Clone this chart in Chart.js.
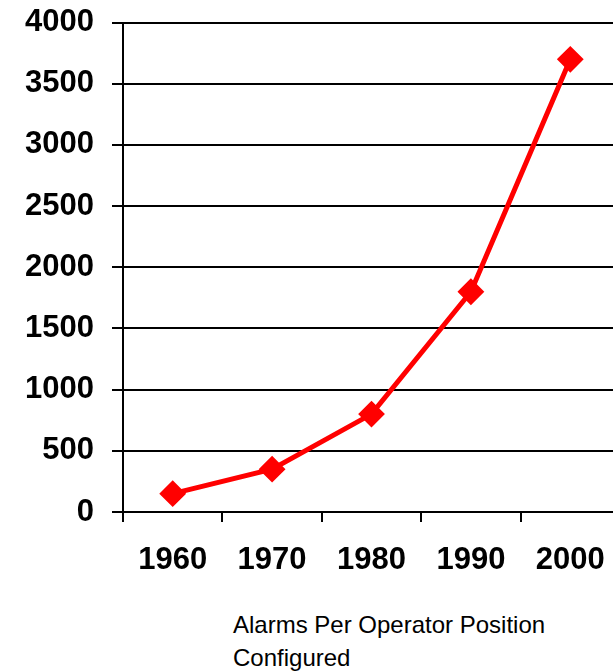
<!DOCTYPE html>
<html>
<head>
<meta charset="utf-8">
<script src="https://cdn.jsdelivr.net/npm/chart.js@4/dist/chart.umd.min.js"></script>
<style>
  html, body { margin: 0; padding: 0; background: #fff; }
  #wrap { position: relative; width: 613px; height: 672px; overflow: hidden; background: #fff; }
  #chart { position: absolute; left: 0; top: -14px; }
  #caption {
    position: absolute; left: 233px; top: 608px;
    font-family: "Liberation Sans", Arial, sans-serif; font-size: 24px; line-height: 33px; color: #000;
  }
</style>
</head>
<body>
<div id="wrap">
  <canvas id="chart" width="634" height="614" style="width:634px;height:614px"></canvas>
  <div id="caption">Alarms Per Operator Position<br>Configured</div>
</div>
<script>
// Decades on the category axis
const years = ['1960', '1970', '1980', '1990', '2000'];
// Alarms configured per operator position
const alarms = [150, 350, 800, 1800, 3700];
// Value axis range and step
const yMin = 0;
const yMax = 4000;
const yStep = 500;

const tickFont = { family: '"Liberation Sans", Arial, sans-serif', size: 31, weight: 'bold' };

new Chart(document.getElementById('chart'), {
  type: 'line',
  data: {
    labels: years,
    datasets: [{
      data: alarms,
      borderColor: '#ff0000',
      backgroundColor: '#ff0000',
      borderWidth: 5,
      tension: 0,
      pointStyle: 'rectRot',
      pointRadius: 12,
      pointHoverRadius: 12,
      pointBorderWidth: 2,
      pointBorderColor: '#ff0000',
      pointBackgroundColor: '#ff0000'
    }]
  },
  options: {
    responsive: false,
    animation: false,
    devicePixelRatio: 1,
    layout: { padding: { top: 9, right: 0, bottom: 0, left: 0 } },
    plugins: { legend: { display: false }, tooltip: { enabled: false }, title: { display: false } },
    scales: {
      x: {
        type: 'category',
        offset: true,
        grid: { display: true, offset: true, drawOnChartArea: false, color: '#000', lineWidth: 2, tickLength: 10 },
        border: { display: true, color: '#000', width: 2 },
        ticks: { color: '#000', font: tickFont, padding: 20, maxRotation: 0, autoSkip: false },
        afterFit: (s) => { s.height = 88; }
      },
      y: {
        min: yMin,
        max: yMax,
        grid: { color: '#000', lineWidth: 2, tickLength: 11 },
        border: { display: true, color: '#000', width: 2 },
        ticks: { stepSize: yStep, color: '#000', font: tickFont, padding: 18, callback: (v) => String(v) },
        afterFit: (s) => { s.width = 123; }
      }
    }
  }
});
</script>
</body>
</html>
